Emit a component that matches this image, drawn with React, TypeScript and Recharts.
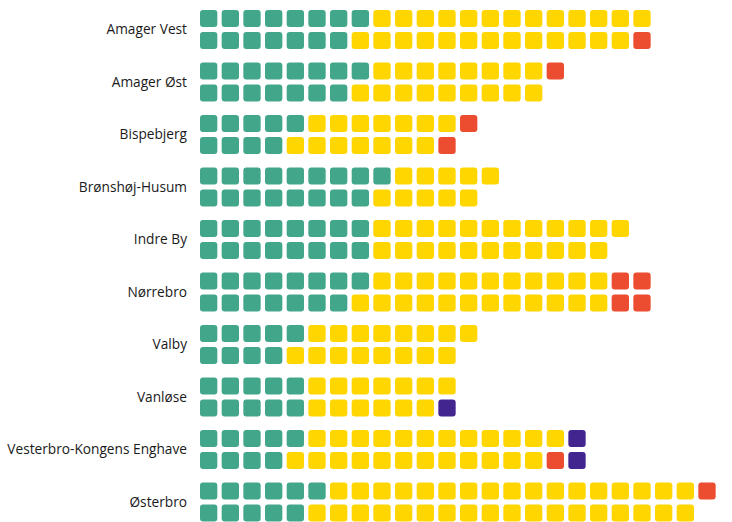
import React from 'react';
import { BarChart, Bar, XAxis, YAxis } from 'recharts';

const districts = [
  'Amager Vest',
  'Amager Øst',
  'Bispebjerg',
  'Brønshøj-Husum',
  'Indre By',
  'Nørrebro',
  'Valby',
  'Vanløse',
  'Vesterbro-Kongens Enghave',
  'Østerbro',
];

// upper row of each district
const green1 = [8, 8, 5, 9, 8, 8, 5, 5, 5, 6];
const yellow1 = [13, 8, 7, 5, 12, 11, 8, 7, 12, 17];
const red1 = [0, 1, 1, 0, 0, 2, 0, 0, 0, 1];
const purple1 = [0, 0, 0, 0, 0, 0, 0, 0, 1, 0];

// lower row of each district
const green2 = [7, 7, 4, 8, 8, 7, 4, 5, 4, 5];
const yellow2 = [13, 9, 7, 5, 11, 12, 8, 6, 12, 18];
const red2 = [1, 0, 1, 0, 0, 2, 0, 0, 1, 0];
const purple2 = [0, 0, 0, 0, 0, 0, 0, 1, 1, 0];

const COLORS = {
  green: '#42A68B',
  yellow: '#FFD600',
  red: '#EC4D31',
  purple: '#432590',
};

const data = districts.map((name, i) => ({
  name,
  green1: green1[i],
  yellow1: yellow1[i],
  red1: red1[i],
  purple1: purple1[i],
  green2: green2[i],
  yellow2: yellow2[i],
  red2: red2[i],
  purple2: purple2[i],
}));

// draws a stacked segment as a run of rounded squares, one per unit
const squares = (key: string, fill: string) => (props: any) => {
  const { x, y, width, height, payload } = props;
  const count = payload ? payload[key] : 0;
  if (!count || !width || width <= 0) return <g />;
  const unit = width / count;
  const size = unit * 0.8;
  return (
    <g>
      {Array.from({ length: count }, (_, i) => (
        <rect
          key={i}
          x={x + i * unit}
          y={y}
          width={size}
          height={height}
          rx={3}
          ry={3}
          fill={fill}
        />
      ))}
    </g>
  );
};

const series = [
  { key: 'green1', stack: 'top', color: COLORS.green },
  { key: 'yellow1', stack: 'top', color: COLORS.yellow },
  { key: 'red1', stack: 'top', color: COLORS.red },
  { key: 'purple1', stack: 'top', color: COLORS.purple },
  { key: 'green2', stack: 'bottom', color: COLORS.green },
  { key: 'yellow2', stack: 'bottom', color: COLORS.yellow },
  { key: 'red2', stack: 'bottom', color: COLORS.red },
  { key: 'purple2', stack: 'bottom', color: COLORS.purple },
];

const App = () => {
  return (
    <div style={{ position: 'absolute', left: 0, top: 0, width: 732, height: 522, overflow: 'hidden', background: '#fff' }}>
      <BarChart
        width={732}
        height={530}
        data={data}
        layout="vertical"
        barSize={17}
        barGap={5}
        margin={{ top: 3, right: 12, bottom: 2, left: 0 }}
      >
        <XAxis type="number" domain={[0, 24]} hide />
        <YAxis
          type="category"
          dataKey="name"
          width={200}
          interval={0}
          tickLine={false}
          axisLine={false}
          tickSize={0}
          tickMargin={13}
          tick={{ fontFamily: 'Open Sans', fontSize: 13.7, fill: '#1a1a1a' }}
        />
        {series.map((s) => (
          <Bar
            key={s.key}
            dataKey={s.key}
            stackId={s.stack}
            fill={s.color}
            shape={squares(s.key, s.color)}
            isAnimationActive={false}
          />
        ))}
      </BarChart>
    </div>
  );
};

export default App;
